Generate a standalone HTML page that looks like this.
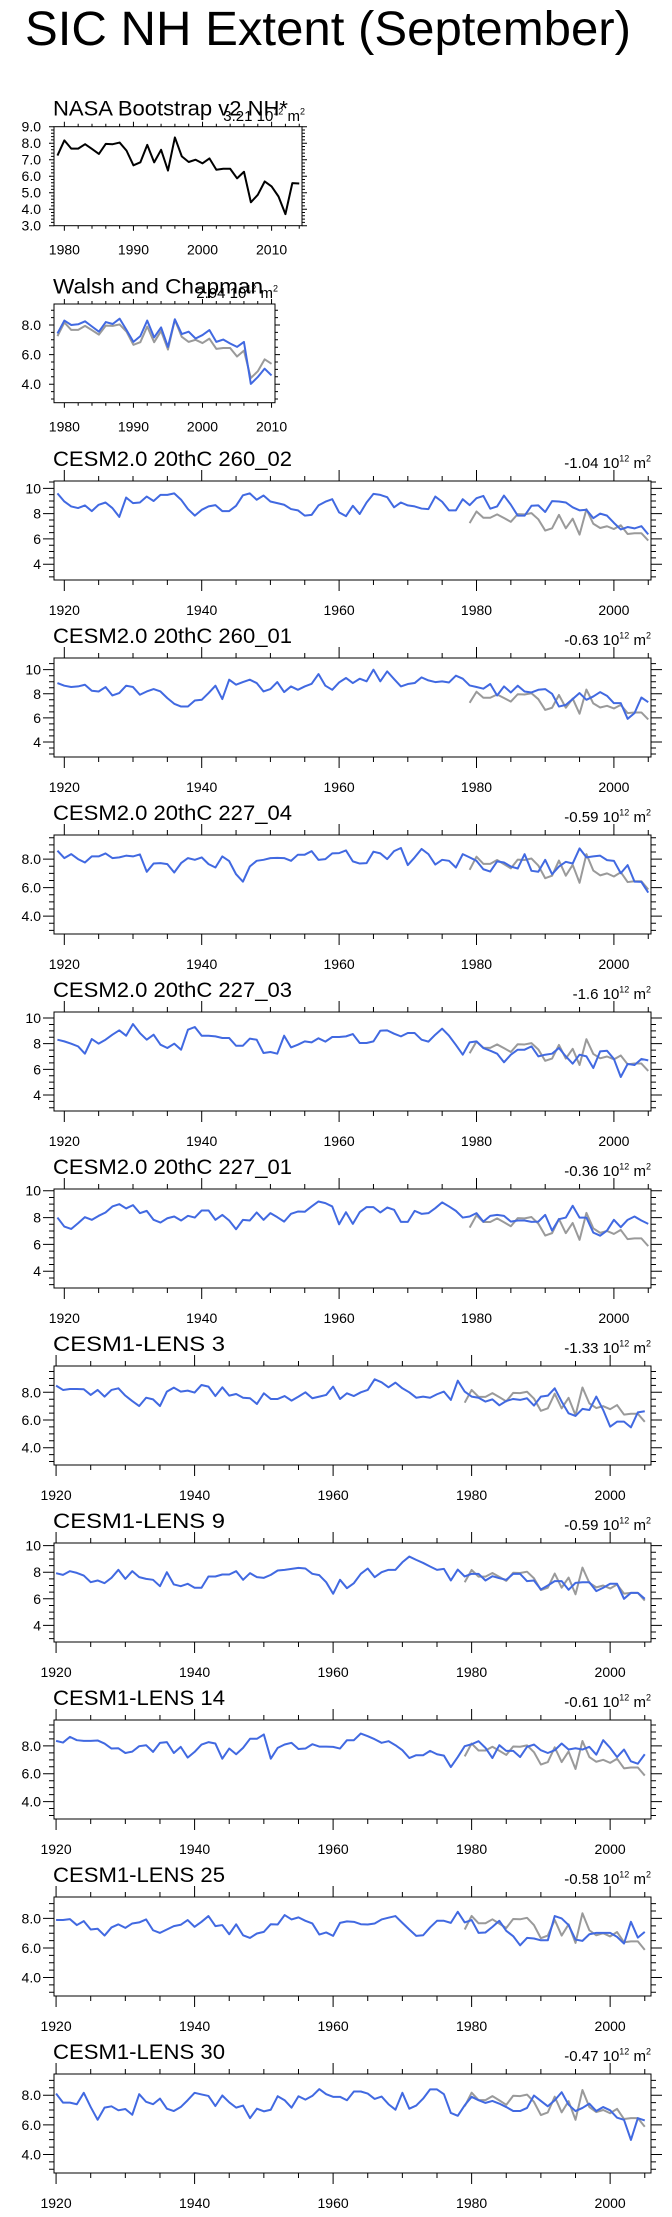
<!DOCTYPE html>
<html><head><meta charset="utf-8"><title>SIC NH Extent (September)</title>
<style>
html,body{margin:0;padding:0;background:#fff;}
svg{display:block;font-family:"Liberation Sans",Arial,sans-serif;}
</style></head>
<body>
<svg id="chart" xmlns="http://www.w3.org/2000/svg" width="672" height="2217" viewBox="0 0 672 2217">
<rect x="0" y="0" width="672" height="2217" fill="#fff"/>
<text x="25" y="45" font-size="48" textLength="606" lengthAdjust="spacingAndGlyphs">SIC NH Extent (September)</text>
<g id="panels"></g>
</svg>
<script>
// ---- data (10^12 m^2), September NH sea-ice extent ----
const nasaStart = 1979;
const nasaVals = [7.25,8.17,7.67,7.67,7.94,7.65,7.35,7.96,7.94,8.04,7.55,6.66,6.84,7.9,6.84,7.6,6.34,8.35,7.2,6.86,7.0,6.78,7.08,6.39,6.45,6.45,5.87,6.27,4.42,4.87,5.68,5.38,4.77,3.7,5.58,5.56];
const walshStart = 1979;
const walshVals = [7.43,8.3,8.0,8.05,8.25,7.9,7.55,8.2,8.07,8.43,7.66,6.86,7.25,8.3,7.16,7.84,6.52,8.39,7.39,7.55,7.09,7.32,7.66,6.86,7.02,6.75,6.52,6.86,4.02,4.48,5.05,4.59];
const cesm2Start = 1919;
const lensStart = 1920;
const run260_02 = [9.6,8.96,8.57,8.44,8.65,8.2,8.7,8.88,8.44,7.74,9.27,8.83,8.88,9.35,9.0,9.48,9.48,9.6,9.1,8.36,7.84,8.3,8.57,8.67,8.2,8.2,8.62,9.45,9.6,9.1,9.43,8.96,8.83,8.7,8.36,8.26,7.84,7.9,8.65,8.94,9.14,8.1,7.8,8.62,7.97,8.88,9.56,9.48,9.3,8.5,8.88,8.65,8.57,8.4,8.36,9.35,8.94,8.26,8.26,9.14,8.67,9.22,9.4,8.39,8.57,9.43,8.7,7.84,7.84,8.62,8.65,8.13,8.99,8.96,8.88,8.5,8.26,8.31,7.64,8.0,7.84,7.27,6.75,6.94,6.83,7.01,6.36];
const run260_01 = [8.89,8.67,8.56,8.61,8.75,8.25,8.19,8.56,7.86,8.06,8.67,8.56,7.92,8.19,8.39,8.19,7.64,7.17,6.94,6.94,7.44,7.5,8.06,8.67,7.56,9.17,8.75,8.97,9.17,8.89,8.19,8.39,8.97,8.14,8.61,8.33,8.61,8.83,9.64,8.67,8.33,8.94,9.31,8.89,9.25,9.03,10.0,9.03,9.86,9.22,8.61,8.81,8.89,9.36,9.11,8.97,9.03,8.94,9.5,9.25,8.69,8.56,8.42,8.81,7.86,8.61,8.11,8.67,8.19,8.11,8.33,8.39,8.0,6.94,7.08,7.56,8.06,7.5,7.78,8.14,7.83,7.22,7.22,5.92,6.39,7.69,7.3];
const run227_04 = [8.59,8.07,8.35,8.0,7.76,8.19,8.19,8.4,8.07,8.12,8.24,8.19,8.33,7.11,7.69,7.72,7.65,7.06,7.72,8.07,7.95,8.12,7.65,7.41,8.19,7.86,6.94,6.42,7.48,7.88,7.95,8.07,8.09,8.07,7.88,8.31,8.31,8.56,7.95,8.0,8.4,8.42,8.61,7.84,7.69,7.72,8.52,8.4,8.0,8.56,8.78,7.58,8.12,8.71,8.35,7.62,7.95,7.88,7.41,8.35,8.12,7.88,7.29,7.13,7.84,7.76,7.48,7.34,8.35,7.18,7.11,7.95,6.94,7.48,7.81,7.69,8.75,8.12,8.19,8.24,7.93,7.88,7.01,7.58,6.42,6.4,5.65];
const run227_03 = [8.31,8.18,8.0,7.79,7.22,8.36,8.0,8.31,8.7,9.04,8.62,9.53,8.83,8.31,8.7,7.92,7.66,8.0,7.53,9.09,9.3,8.62,8.62,8.57,8.44,8.44,7.84,7.84,8.39,8.31,7.27,7.35,7.22,8.62,7.71,7.92,8.18,8.1,8.42,8.16,8.52,8.52,8.57,8.75,8.05,8.05,8.18,9.01,9.04,8.78,8.57,8.83,8.83,8.31,8.16,8.7,9.17,8.62,7.9,7.14,8.1,8.18,7.66,7.45,7.22,6.55,7.14,7.53,7.53,7.79,7.01,7.14,7.22,7.66,7.01,6.44,7.14,7.01,6.1,7.4,7.45,6.81,5.4,6.42,6.34,6.81,6.7];
const run227_01 = [8.0,7.33,7.15,7.58,8.03,7.83,8.13,8.38,8.83,9.0,8.68,8.93,8.33,8.5,7.83,7.63,7.95,8.08,7.78,8.13,8.0,8.53,8.53,7.83,8.2,7.78,7.13,7.83,7.78,8.38,7.83,8.33,8.03,7.7,8.28,8.45,8.43,8.83,9.2,9.08,8.83,7.5,8.4,7.53,8.4,8.78,8.78,8.38,8.75,8.58,7.68,7.68,8.5,8.28,8.33,8.7,9.13,8.83,8.5,8.0,8.08,8.33,7.7,8.13,8.2,8.13,7.7,7.78,7.78,7.68,7.7,8.2,7.03,7.88,8.0,8.88,8.0,8.0,6.88,6.65,7.03,7.83,7.28,7.83,8.08,7.78,7.53];
const lens3 = [8.48,8.17,8.24,8.24,8.22,7.81,8.17,7.69,8.17,8.29,7.76,7.37,7.01,7.61,7.49,7.01,8.05,8.34,8.05,8.12,7.98,8.53,8.41,7.73,8.36,7.76,7.88,7.61,7.57,7.16,7.93,7.52,7.52,7.73,7.4,7.69,8.0,7.57,7.69,7.81,8.41,7.52,7.93,7.73,8.0,8.17,8.94,8.72,8.36,8.7,8.29,8.0,7.61,7.69,7.61,7.86,8.05,7.45,8.84,8.05,7.69,7.61,7.33,7.49,7.06,7.37,7.52,7.45,7.57,7.04,7.69,7.76,8.29,7.33,6.48,6.29,6.8,6.72,7.69,6.72,5.52,5.88,5.88,5.47,6.55,6.63];
const lens9 = [7.93,7.8,8.08,7.95,7.75,7.25,7.38,7.18,7.58,8.18,7.5,8.08,7.63,7.5,7.43,6.95,8.0,7.08,6.95,7.13,6.83,6.83,7.68,7.68,7.83,7.83,8.08,7.43,7.93,7.63,7.58,7.8,8.13,8.18,8.25,8.33,8.28,7.88,7.78,7.25,6.38,7.43,6.8,7.18,7.88,8.28,7.63,8.0,8.18,8.18,8.75,9.18,8.93,8.7,8.43,8.18,8.25,7.38,8.2,7.68,7.88,7.88,7.38,7.7,7.55,7.43,7.88,7.88,7.33,7.38,6.7,7.0,7.33,7.33,6.68,7.2,7.25,7.25,6.58,6.83,7.13,7.13,6.0,6.45,6.45,6.0];
const lens14 = [8.36,8.24,8.65,8.41,8.36,8.36,8.39,8.17,7.81,7.83,7.49,7.59,7.98,8.05,7.57,8.22,8.27,7.49,7.93,7.16,7.57,8.1,8.27,8.17,7.08,7.81,7.4,7.86,8.51,8.51,8.82,7.08,7.86,8.1,8.22,7.78,7.81,8.12,7.95,7.95,7.93,7.81,8.41,8.41,8.89,8.7,8.48,8.22,8.34,8.05,7.69,7.13,7.33,7.33,7.64,7.4,7.3,6.48,7.2,7.98,8.12,8.34,7.86,7.13,8.05,7.64,7.64,7.2,7.93,8.1,7.69,7.49,7.69,8.17,7.74,7.83,7.74,7.93,7.37,8.41,7.86,7.2,7.74,6.89,6.72,7.4];
const lens25 = [7.89,7.89,7.95,7.55,7.82,7.25,7.3,6.84,7.39,7.6,7.36,7.66,7.73,7.93,7.2,7.02,7.25,7.48,7.57,7.89,7.43,7.77,8.16,7.48,7.55,6.93,7.6,6.86,6.68,6.98,7.09,7.61,7.59,8.23,7.93,8.07,7.84,7.66,6.91,7.05,6.82,7.7,7.8,7.77,7.61,7.59,7.66,7.93,8.05,8.16,7.7,7.25,6.82,6.86,7.39,7.84,7.84,7.7,8.45,7.73,7.89,7.02,7.05,7.43,7.84,7.16,6.8,6.18,6.68,6.64,6.52,6.52,8.16,8.0,7.55,6.57,6.48,6.93,7.02,7.02,7.02,6.75,6.3,7.77,6.7,7.09];
const lens30 = [8.11,7.5,7.5,7.39,8.16,7.2,6.34,7.16,7.25,6.98,7.07,6.68,8.07,7.55,7.39,7.77,7.09,6.93,7.2,7.66,8.16,8.05,7.95,7.27,7.98,7.52,7.16,7.3,6.45,7.09,6.91,7.02,7.93,7.66,7.16,7.93,7.7,7.95,8.41,8.07,7.89,7.89,7.66,8.25,8.25,8.11,7.75,7.91,7.39,7.02,8.16,7.09,7.3,7.77,8.39,8.39,8.07,6.8,6.61,7.32,7.89,7.66,7.48,7.61,7.43,7.2,6.93,6.93,7.14,7.98,7.61,7.25,7.66,8.2,7.36,6.93,7.14,7.43,6.93,7.2,6.98,6.48,6.34,4.98,6.45,6.3];
const runNames = ["CESM2.0 20thC 260_02","CESM2.0 20thC 260_01","CESM2.0 20thC 227_04","CESM2.0 20thC 227_03","CESM2.0 20thC 227_01","CESM1-LENS 3","CESM1-LENS 9","CESM1-LENS 14","CESM1-LENS 25","CESM1-LENS 30"];
const runTrends = ["-1.04","-0.63","-0.59","-1.6","-0.36","-1.33","-0.59","-0.61","-0.58","-0.47"];
const nasaTrend = "3.21";
const walshTrend = "2.94";

const NS = "http://www.w3.org/2000/svg";
const root = document.getElementById("panels");
function mk(tag, attrs, parent){
  const e = document.createElementNS(NS, tag);
  for (const k in attrs) e.setAttribute(k, attrs[k]);
  (parent||root).appendChild(e);
  return e;
}
function unitLabel(parent, x, y, val, fs, name){
  const t = mk("text", {x:x, y:y, "font-size":fs, "text-anchor":"end"}, parent);
  
  
  const sfs = Math.round(fs*0.62);
  t.appendChild(document.createTextNode(val + " 10"));
  const s1 = mk("tspan", {dy:-fs*0.42, "font-size":sfs}, t); s1.textContent = "12";
  const s2 = mk("tspan", {dy:fs*0.42}, t); s2.textContent = " m";
  const s3 = mk("tspan", {dy:-fs*0.42, "font-size":sfs}, t); s3.textContent = "2";
}

function panel(c){
  const g = mk("g", {});
  
  
  const xs = v => c.left + (v - c.xmin) / (c.xmax - c.xmin) * (c.right - c.left);
  const ys = v => c.bottom - (v - c.ymin) / (c.ymax - c.ymin) * (c.bottom - c.top);
  const tt = mk("text", {x:53, y:c.titleY, "font-size":21, textLength:c.titleW, lengthAdjust:"spacingAndGlyphs"}, g);
  
  
  tt.textContent = c.title;
  unitLabel(g, c.labelX, c.labelY, c.trend, c.labelFs, 'trend-label');
  let d = "";
  const M = c.major, m = c.minor;
  for (let yr = Math.ceil(c.xmin); yr <= c.xmax; yr++){
    const isMaj = yr % c.xMajor === 0, isMin = yr % c.xMinor === 0;
    if (!isMaj && !isMin) continue;
    const L = isMaj ? M : m, x = xs(yr);
    d += `M${x} ${c.top}v${-L}M${x} ${c.bottom}v${L}`;
  }
  const nMin = Math.ceil(c.ymin / c.yMinor - 1e-6);
  for (let k = nMin; k * c.yMinor <= c.ymax + 1e-6; k++){
    const v = k * c.yMinor;
    const isMaj = Math.abs(v / c.yMajor - Math.round(v / c.yMajor)) < 1e-6;
    const L = isMaj ? M : m, y = ys(v);
    d += `M${c.left} ${y}h${-L}M${c.right} ${y}h${L}`;
  }
  const tk = mk("path", {d:d, stroke:"#000", "stroke-width":1, fill:"none"}, g);
  
  
  for (let yr = Math.ceil(c.xmin); yr <= c.xmax; yr++){
    if (yr % c.xMajor !== 0) continue;
    const t = mk("text", {x:xs(yr), y:c.bottom + c.xLabOff, "font-size":14, "text-anchor":"middle"}, g);
    
    
    t.textContent = yr;
  }
  for (let k = Math.ceil(c.ymin / c.yMajor - 1e-6); k * c.yMajor <= c.ymax + 1e-6; k++){
    const v = k * c.yMajor;
    const t = mk("text", {x:c.left - 13, y:ys(v) + 5, "font-size":14, "text-anchor":"end"}, g);
    
    
    t.textContent = v.toFixed(c.yDec);
  }
  c.series.forEach(s => {
    const pts = s.vals.map((v, i) => xs(s.start + i).toFixed(2) + "," + ys(v).toFixed(2)).join(" ");
    const pl = mk("polyline", {points:pts, fill:"none", stroke:s.color, "stroke-width":2, "stroke-linejoin":"round"}, g);
    
    
  });
  const fr = mk("rect", {x:c.left, y:c.top, width:c.right - c.left, height:c.bottom - c.top, fill:"none", stroke:"#000", "stroke-width":1}, g);
  
  
}

const BLUE = "#4169e1", GRAY = "#9a9a9a", BLACK = "#000";
panel({name:"nasa-bootstrap-panel", title:"NASA Bootstrap v2 NH*", titleW:235, titleY:115.7, trend:nasaTrend, labelX:305, labelY:121, labelFs:15,
  left:54, right:302, top:126.7, bottom:225.7, xmin:1978.5, xmax:2014.4, ymin:3, ymax:9,
  xMajor:10, xMinor:2, yMajor:1, yMinor:0.2, yDec:1, major:5, minor:3, xLabOff:29,
  series:[{name:"nasa-line", vals:nasaVals, start:nasaStart, color:BLACK}]});
panel({name:"walsh-chapman-panel", title:"Walsh and Chapman", titleW:210, titleY:293.3, trend:walshTrend, labelX:278, labelY:298, labelFs:15,
  left:54, right:275, top:304, bottom:402.7, xmin:1978.5, xmax:2010.5, ymin:2.75, ymax:9.42,
  xMajor:10, xMinor:2, yMajor:2, yMinor:0.5, yDec:1, major:5, minor:3, xLabOff:29,
  series:[{name:"nasa-obs-line", vals:nasaVals.slice(0, walshVals.length), start:nasaStart, color:GRAY},
          {name:"walsh-line", vals:walshVals, start:walshStart, color:BLUE}]});

const runData = [run260_02, run260_01, run227_04, run227_03, run227_01, lens3, lens9, lens14, lens25, lens30];
const yMaxes = [10.58, 10.97, 9.69, 10.47, 10.13, 9.9, 10.2, 9.86, 9.45, 9.43];
const yDecs = [0,0,1,0,0,1,0,1,1,1];
const titleWs = [239,239,239,239,239,172,172,172,172,172];
runData.forEach((vals, i) => {
  const isLens = i >= 5;
  const top = 481 + 177 * i;
  panel({name:"run-panel-" + (i + 1), title:runNames[i], titleW:titleWs[i], titleY:top - 15, trend:runTrends[i], labelX:651, labelY:top - 13, labelFs:15,
    left:54, right:651, top:top, bottom:top + 99, xmin:isLens ? 1919.7 : 1918.5, xmax:isLens ? 2005.9 : 2005.4,
    ymin:2.75, ymax:yMaxes[i], xMajor:20, xMinor:5, yMajor:2, yMinor:0.5, yDec:yDecs[i], major:11, minor:5, xLabOff:35,
    series:[{name:"obs-line", vals:nasaVals.slice(0, 2005 - nasaStart + 1), start:nasaStart, color:GRAY},
            {name:"model-line", vals:vals, start:isLens ? lensStart : cesm2Start, color:BLUE}]});
});
</script>
</body></html>
